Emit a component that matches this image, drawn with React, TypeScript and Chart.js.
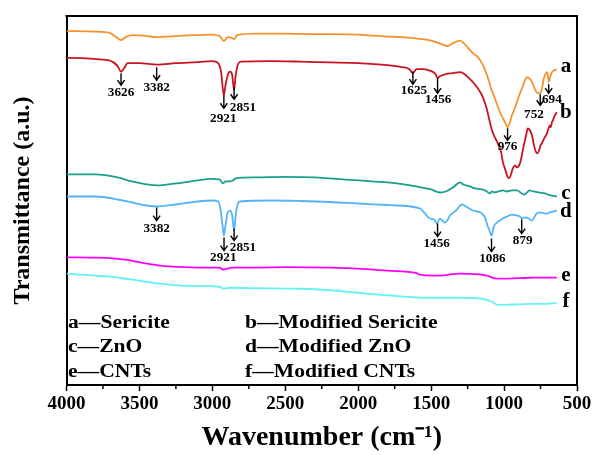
import React, { useEffect, useRef } from "react";
import { Chart, registerables } from "chart.js";

Chart.register(...registerables);

// ---- Data (wavenumber in cm^-1, transmittance in offset arbitrary units) ----
const wnA = [3997, 3800, 3700, 3660, 3626, 3590, 3540, 3450, 3380, 3300, 3200, 3100, 3000, 2950, 2921, 2895, 2870, 2851, 2830, 2700, 2500, 2300, 2200, 2000, 1800, 1700, 1625, 1560, 1500, 1456, 1420, 1392, 1350, 1303, 1270, 1234, 1214, 1180, 1152, 1130, 1110, 1090, 1063, 1049, 1028, 1008, 990, 976, 960, 946, 926, 912, 891, 871, 857, 843, 830, 815, 800, 785, 770, 752, 740, 730, 720, 706, 700, 694, 686, 675, 665, 651, 640];
const tA = [369, 368.5, 367, 363, 360, 363.5, 365, 364, 363, 363.5, 364.5, 365, 365.5, 364, 359, 363, 362.5, 361, 365, 366.5, 366.5, 366, 366, 365.5, 363.5, 363, 362, 361, 359.5, 357.5, 355.5, 354, 357, 359.5, 356, 350, 347, 343, 337, 330, 322, 312, 302, 296, 288, 282, 277, 273, 278, 285, 292, 298, 307, 314, 320, 323, 322, 320, 315, 310, 307, 307, 312, 320, 325, 328, 325, 318, 322, 327, 329, 330, 331];

const wnB = [3997, 3900, 3800, 3720, 3680, 3650, 3626, 3605, 3580, 3500, 3380, 3250, 3100, 3000, 2960, 2940, 2927, 2921, 2910, 2890, 2879, 2865, 2851, 2840, 2820, 2800, 2600, 2400, 2200, 2000, 1800, 1700, 1650, 1625, 1600, 1560, 1500, 1470, 1456, 1440, 1400, 1350, 1303, 1270, 1234, 1214, 1180, 1152, 1120, 1097, 1083, 1063, 1040, 1020, 1008, 994, 980, 967, 955, 940, 926, 912, 891, 878, 865, 850, 837, 823, 809, 795, 780, 770, 760, 750, 741, 725, 706, 695, 686, 680, 672, 665, 655, 638];
const tB = [342.3, 342, 341, 340, 338, 334, 328.5, 332, 337, 337, 335.5, 337, 338, 339, 337, 328, 310, 305, 315, 327, 328.5, 326, 310, 325, 337, 338.5, 339, 338.5, 337.7, 337, 335, 333, 331, 327, 331, 331, 329, 326, 322, 324, 326, 327, 328, 326, 321, 318, 312, 305, 292, 278, 270, 263, 256, 248, 238, 232, 225, 222, 225, 232, 235, 233, 237, 245, 255, 264, 272, 270, 265, 255, 248, 247, 250, 255, 257, 262, 267, 272, 275, 273, 278, 280, 284, 288];

const wnC = [3997, 3800, 3750, 3650, 3550, 3450, 3380, 3250, 3100, 3016, 2950, 2927, 2910, 2880, 2860, 2840, 2700, 2500, 2300, 2194, 2000, 1800, 1735, 1600, 1500, 1440, 1400, 1350, 1303, 1280, 1234, 1200, 1152, 1118, 1097, 1083, 1063, 1040, 1008, 980, 946, 912, 878, 860, 843, 823, 800, 760, 720, 680, 638];
const tC = [226, 226, 225.5, 223, 219, 216, 215, 217, 220, 221.5, 221, 217, 219, 219, 220, 222, 223, 223.5, 223, 222, 220, 218, 217, 214, 211, 208, 209, 213, 218, 216, 214, 212, 211, 209, 207, 209, 208, 209, 210, 209, 210, 210, 207, 206, 208, 210, 209, 208, 207, 205, 204];

const wnD = [3997, 3800, 3750, 3650, 3550, 3450, 3380, 3250, 3100, 3000, 2960, 2945, 2930, 2921, 2910, 2895, 2879, 2865, 2851, 2840, 2825, 2810, 2600, 2400, 2194, 2000, 1800, 1735, 1577, 1509, 1480, 1460, 1440, 1406, 1390, 1371, 1330, 1289, 1260, 1214, 1180, 1152, 1130, 1118, 1100, 1086, 1070, 1049, 1008, 980, 946, 912, 891, 878, 860, 843, 823, 809, 790, 770, 754, 741, 720, 706, 690, 665, 638];
const tD = [204, 204, 203.5, 201, 198, 195, 194, 196, 199, 200, 199, 192, 175, 165, 175, 188, 190, 186, 170, 185, 197, 199, 200, 199.5, 198.5, 197, 195.5, 195, 192, 182, 181, 177, 182, 178, 180, 185, 190, 196, 194, 190, 189, 187, 183, 177, 170, 165, 174, 178, 182, 184, 186, 185, 184, 182, 183, 183, 181, 180, 184, 188, 188, 188, 187, 187, 188, 189, 190];

const wnE = [3997, 3800, 3700, 3600, 3450, 3359, 3200, 3000, 2950, 2925, 2900, 2870, 2700, 2500, 2194, 2000, 1800, 1600, 1577, 1450, 1300, 1200, 1118, 1050, 1000, 900, 800, 700, 638];
const tE = [143.3, 143, 142.5, 141, 137, 135, 133.5, 133, 133, 131, 132, 133, 133, 133.5, 133, 132, 130, 127.5, 126, 125, 127, 126.5, 125, 122, 122, 122.5, 123, 123, 123];

const wnF = [3997, 3800, 3700, 3550, 3359, 3200, 2950, 2920, 2880, 2700, 2400, 2194, 2000, 1800, 1509, 1300, 1152, 1083, 1049, 1000, 900, 800, 700, 638];
const tF = [127, 125, 124, 121, 117, 115, 114, 112, 113, 112.5, 112, 110.5, 108, 105.5, 103, 103, 102, 99, 96, 96, 96.5, 97, 97, 98];

const seriesNames = ["a", "b", "c", "d", "e", "f"];
const seriesColors = ["#F5922F", "#C8141E", "#1A9E8E", "#55B4F5", "#FF00FF", "#66F2F5"];
const seriesLabelY = [332, 286, 205, 187, 123, 97];
const seriesLabelWn = 576;

const xTicks = [4000, 3500, 3000, 2500, 2000, 1500, 1000, 500];
const xMinorTicks = [3750, 3250, 2750, 2250, 1750, 1250, 750];

// peak annotations: label, wavenumber of arrow, arrow top, arrow bottom, label wavenumber, label value
const peakLabels = ["3626", "3382", "2921", "2851", "1625", "1456", "976", "752", "694", "3382", "2921", "2851", "1456", "1086", "879"];
const peakArrowWn = [3626, 3382, 2921, 2851, 1625, 1456, 976, 752, 694, 3382, 2920, 2851, 1456, 1086, 879];
const peakArrowTop = [327, 333, 305, 313, 329, 322, 272, 306, 316, 193, 163, 172, 177, 162, 181];
const peakArrowBottom = [315, 320, 292, 301, 316, 307, 260, 295, 307, 180, 150, 160, 164, 149, 167];
const peakLabelWn = [3626, 3382, 2925, 2790, 1618, 1452, 976, 795, 672, 3382, 2925, 2790, 1462, 1080, 872];
const peakLabelT = [307, 312, 281, 292, 309, 300, 253, 285, 300, 172, 143, 153, 157, 142, 160];

const legendLines = [
  ["a\u2014Sericite", "b\u2014Modified Sericite"],
  ["c\u2014ZnO", "d\u2014Modified ZnO"],
  ["e\u2014CNTs", "f\u2014Modified CNTs"],
];

const FONT = "'Liberation Serif', 'Times New Roman', serif";

const wns = [wnA, wnB, wnC, wnD, wnE, wnF];
const ts = [tA, tB, tC, tD, tE, tF];

const overlayPlugin = {
  id: "overlay",
  afterDatasetsDraw(chart: any) {
    const ctx = chart.ctx as CanvasRenderingContext2D;
    const area = chart.chartArea;
    const xs = chart.scales.x;
    const ys = chart.scales.y;
    ctx.save();
    // frame top & right
    ctx.strokeStyle = "#000";
    ctx.lineWidth = 2;
    ctx.beginPath();
    ctx.moveTo(area.left - 1, area.top);
    ctx.lineTo(area.right, area.top);
    ctx.lineTo(area.right, area.bottom + 1);
    ctx.stroke();
    // minor ticks
    ctx.lineWidth = 1.5;
    for (const v of xMinorTicks) {
      const px = xs.getPixelForValue(v);
      ctx.beginPath();
      ctx.moveTo(px, area.bottom);
      ctx.lineTo(px, area.bottom + 4);
      ctx.stroke();
    }
    // arrows
    ctx.lineWidth = 1.4;
    for (let i = 0; i < peakLabels.length; i++) {
      const px = xs.getPixelForValue(peakArrowWn[i]);
      const y1 = ys.getPixelForValue(peakArrowTop[i]);
      const y2 = ys.getPixelForValue(peakArrowBottom[i]);
      ctx.beginPath();
      ctx.moveTo(px, y1);
      ctx.lineTo(px, y2);
      ctx.moveTo(px - 3.5, y2 - 5);
      ctx.lineTo(px, y2);
      ctx.lineTo(px + 3.5, y2 - 5);
      ctx.stroke();
      ctx.fillStyle = "#000";
      ctx.font = "bold 12px " + FONT;
      ctx.textAlign = "center";
      ctx.textBaseline = "middle";
      const lx = xs.getPixelForValue(peakLabelWn[i]);
      const ly = ys.getPixelForValue(peakLabelT[i]);
      ctx.save();
      ctx.translate(lx, ly);
      ctx.scale(1.1, 1);
      ctx.fillText(peakLabels[i], 0, 0);
      ctx.restore();
    }
    // series letters
    ctx.font = "bold 21px " + FONT;
    ctx.textAlign = "center";
    ctx.textBaseline = "middle";
    ctx.fillStyle = "#000";
    for (let i = 0; i < seriesNames.length; i++) {
      ctx.fillText(seriesNames[i], xs.getPixelForValue(seriesLabelWn), ys.getPixelForValue(seriesLabelY[i]) - 2);
    }
    // legend text
    ctx.font = "bold 18px " + FONT;
    ctx.textAlign = "left";
    const colX = [area.left + 1.5, area.left + 178.5];
    const rowY = [area.bottom - 62, area.bottom - 37.5, area.bottom - 13];
    for (let r = 0; r < legendLines.length; r++) {
      for (let c = 0; c < 2; c++) {
        ctx.save();
        ctx.translate(colX[c], rowY[r]);
        ctx.scale(1.2, 1);
        ctx.fillText(legendLines[r][c], 0, 0);
        ctx.restore();
      }
    }
    ctx.restore();
  },
};

export default function App() {
  const canvasRef = useRef<HTMLCanvasElement | null>(null);

  useEffect(() => {
    if (!canvasRef.current) return;
    const chart = new Chart(canvasRef.current, {
      type: "line",
      data: {
        datasets: seriesNames.map((name, i) => ({
          label: name,
          data: wns[i].map((x, j) => ({ x, y: ts[i][j] })),
          borderColor: seriesColors[i],
          backgroundColor: seriesColors[i],
          borderWidth: 1.8,
          pointRadius: 0,
          cubicInterpolationMode: "monotone" as const,
          fill: false,
        })),
      },
      options: {
        responsive: false,
        animation: false,
        devicePixelRatio: 1,
        layout: { padding: { top: 16, right: 17, left: 0, bottom: 0 } },
        plugins: {
          legend: { display: false },
          tooltip: { enabled: false },
        },
        scales: {
          x: {
            type: "linear",
            reverse: true,
            min: 500,
            max: 4000,
            afterBuildTicks: (scale: any) => {
              scale.ticks = xTicks.map((v) => ({ value: v }));
            },
            afterFit: (scale: any) => {
              scale.height = 70;
            },
            ticks: {
              color: "#000",
              font: { family: FONT, size: 19, weight: "bold" },
              padding: 2,
              maxRotation: 0,
              autoSkip: false,
              callback: (v: any) => String(v),
            },
            grid: {
              display: true,
              drawOnChartArea: false,
              drawTicks: true,
              tickLength: 6,
              tickColor: "#000",
              tickWidth: 1.5,
            },
            border: { display: true, color: "#000", width: 2 },
            title: {
              display: true,
              text: "Wavenumber (cm\u207B\u00B9)",
              color: "#000",
              font: { family: FONT, size: 28, weight: "bold" },
              padding: { top: 0, bottom: 0 },
            },
          },
          y: {
            type: "linear",
            min: 16,
            max: 384,
            afterFit: (scale: any) => {
              scale.width = 66.5;
            },
            ticks: { display: false },
            grid: { display: false, drawTicks: false },
            border: { display: true, color: "#000", width: 2 },
            title: {
              display: true,
              text: "Transmittance (a.u.)",
              color: "#000",
              font: { family: FONT, size: 24, weight: "bold" },
              padding: { top: 8, bottom: 0 },
            },
          },
        },
      },
      plugins: [overlayPlugin],
    });
    return () => chart.destroy();
  }, []);

  return (
    <div style={{ position: "absolute", left: 0, top: 0, width: 594, height: 455, background: "#fff" }}>
      <canvas ref={canvasRef} width={594} height={455} style={{ width: 594, height: 455, display: "block" }} />
    </div>
  );
}
